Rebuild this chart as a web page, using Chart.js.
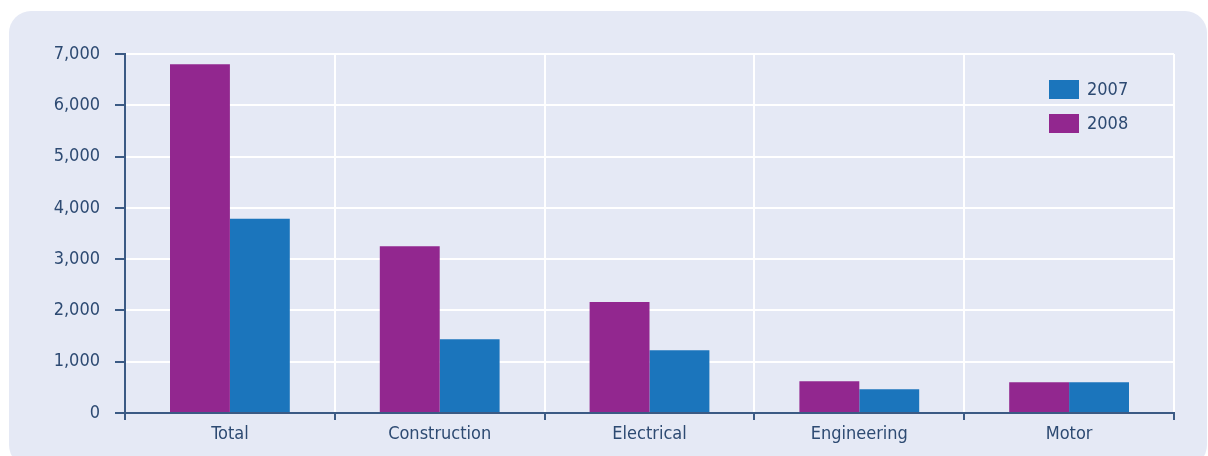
<!DOCTYPE html>
<html>
<head>
<meta charset="utf-8">
<script src="https://cdn.jsdelivr.net/npm/chart.js@4"></script>
<style>
  body { margin: 0; background: #fff; width: 1208px; height: 456px; overflow: hidden; position: relative; }
  .panel { position: absolute; left: 9px; top: 11px; width: 1198px; height: 456px; background: #e5e9f5; border-radius: 22px; }
  #barChart { position: absolute; left: 0; top: 0; }
</style>
</head>
<body>
<div class="panel"></div>
<canvas id="barChart" width="1208" height="456"></canvas>
<script>
// data
const categories = ['Total', 'Construction', 'Electrical', 'Engineering', 'Motor'];
const values2008 = [6800, 3250, 2165, 620, 600];
const values2007 = [3790, 1440, 1225, 465, 600];
const yTicks = [0, 1000, 2000, 3000, 4000, 5000, 6000, 7000];

const axisColor = '#3b5a84';
const textColor = '#2d4a72';
const fontFamily = "'DejaVu Sans Condensed', 'DejaVu Sans', sans-serif";
const fontSize = 18;

// legend drawn inside the plot, top right, 2007 first
const insideLegend = {
  id: 'insideLegend',
  afterDraw(chart) {
    const c = chart.ctx;
    const area = chart.chartArea;
    const sets = chart.data.datasets.slice().reverse();
    c.save();
    c.font = fontSize + 'px ' + fontFamily;
    c.textBaseline = 'middle';
    c.textAlign = 'left';
    sets.forEach(function (ds, i) {
      const x = area.right - 125;
      const y = area.top + 26 + i * 34;
      c.fillStyle = ds.backgroundColor;
      c.fillRect(x, y, 30, 19);
      c.fillStyle = textColor;
      c.fillText(ds.label, x + 38, y + 10);
    });
    c.restore();
  }
};

const ctx = document.getElementById('barChart');

new Chart(ctx, {
  type: 'bar',
  data: {
    labels: categories,
    datasets: [
      { label: '2008', data: values2008, backgroundColor: '#92278f' },
      { label: '2007', data: values2007, backgroundColor: '#1b75bc' }
    ]
  },
  options: {
    responsive: false,
    animation: false,
    categoryPercentage: 0.571,
    barPercentage: 1.0,
    layout: { padding: { left: 0, right: 34, top: 54, bottom: 0 } },
    plugins: {
      legend: { display: false },
      tooltip: { enabled: false }
    },
    scales: {
      x: {
        grid: { offset: true, color: '#ffffff', lineWidth: 2, tickColor: axisColor, tickWidth: 2, tickLength: 7 },
        border: { color: axisColor, width: 2 },
        ticks: { color: textColor, font: { family: fontFamily, size: fontSize }, padding: 4 },
        afterFit: function (scale) { scale.height = 43; }
      },
      y: {
        min: yTicks[0],
        max: yTicks[yTicks.length - 1],
        afterBuildTicks: function (scale) { scale.ticks = yTicks.map(v => ({ value: v })); },
        grid: { color: '#ffffff', lineWidth: 2, tickColor: axisColor, tickWidth: 2, tickLength: 10 },
        border: { color: axisColor, width: 2 },
        ticks: {
          color: textColor,
          font: { family: fontFamily, size: fontSize },
          padding: 15,
          callback: v => v.toLocaleString('en-US')
        },
        afterFit: function (scale) { scale.width = 125; }
      }
    }
  },
  plugins: [insideLegend]
});
</script>
</body>
</html>
